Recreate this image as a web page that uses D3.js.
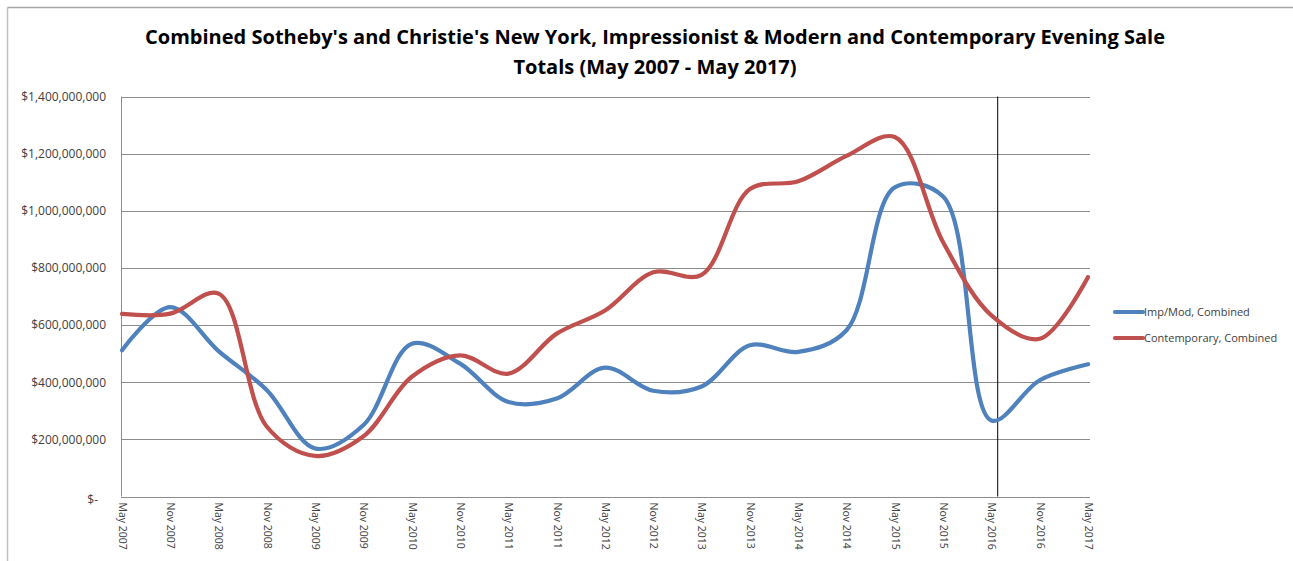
<!DOCTYPE html>
<html>
<head>
<meta charset="utf-8">
<script src="https://cdn.jsdelivr.net/npm/d3@7"></script>
<style>
  html, body { margin: 0; padding: 0; background: #fff; }
  svg { display: block; }
</style>
</head>
<body>
<svg id="chart" width="1293" height="561"></svg>
<script>
// ---- data (values in millions of USD) ----
const categories = ["May 2007","Nov 2007","May 2008","Nov 2008","May 2009","Nov 2009","May 2010","Nov 2010",
  "May 2011","Nov 2011","May 2012","Nov 2012","May 2013","Nov 2013","May 2014","Nov 2014","May 2015",
  "Nov 2015","May 2016","Nov 2016","May 2017"];
const impModCombined = [512, 663, 509, 372, 168, 250, 535, 465, 331, 343, 451, 370, 385, 529, 506, 582, 1082, 1050, 266, 407, 463];
const contemporaryCombined = [639, 640, 710, 244, 142, 211, 419, 494, 430, 570, 651, 785, 776, 1076, 1103, 1192, 1258, 890, 634, 552, 768];
const seriesNames = ["Imp/Mod, Combined", "Contemporary, Combined"];
const yTicks = [0, 200, 400, 600, 800, 1000, 1200, 1400];
const markerCategory = "May 2016";
const titleLines = ["Combined Sotheby's and Christie's New York, Impressionist & Modern and Contemporary Evening Sale",
  "Totals (May 2007 - May 2017)"];

// ---- layout ----
const svg = d3.select("#chart");
const W = 1293, H = 561;
const plot = { left: 121, right: 1090, top: 96.5, bottom: 496.5 };
const colors = ["#4F81BD", "#C0504D"];

// frame
svg.append("line").attr("x1", 7.5).attr("x2", W).attr("y1", 7.5).attr("y2", 7.5)
  .attr("stroke", "#a6a6a6").attr("stroke-width", 1.5);
svg.append("line").attr("x1", 7.5).attr("x2", 7.5).attr("y1", 7.5).attr("y2", H)
  .attr("stroke", "#bfbfbf").attr("stroke-width", 1.5);

const x = d3.scalePoint().domain(categories).range([plot.left + 1, plot.right - 2]);
const y = d3.scaleLinear().domain([0, 1400]).range([plot.bottom, plot.top]);

// gridlines
svg.append("g").selectAll("line").data(yTicks.filter(d => d > 0)).join("line")
  .attr("x1", plot.left).attr("x2", plot.right)
  .attr("y1", d => Math.round(y(d)) + 0.5).attr("y2", d => Math.round(y(d)) + 0.5)
  .attr("stroke", "#8c8c8c").attr("stroke-width", 1);

// y axis
const yAxis = d3.axisLeft(y).tickValues(yTicks).tickSize(0).tickPadding(0)
  .tickFormat(d => d === 0 ? "$-" : d3.format("$,")(d * 1e6));
const gy = svg.append("g").attr("transform", `translate(${plot.left - 15},0)`).call(yAxis);
gy.select(".domain").remove();
gy.selectAll("text").attr("font-family", "'Open Sans', sans-serif").attr("font-size", "12px")
  .attr("fill", "#404040").attr("dx", d => d === 0 ? -8 : 0).attr("dy", d => d === 0 ? "0.6em" : "0.32em");

// plot left & bottom border
svg.append("line").attr("x1", plot.left + 0.5).attr("x2", plot.left + 0.5)
  .attr("y1", plot.top).attr("y2", plot.bottom).attr("stroke", "#8c8c8c");
svg.append("line").attr("x1", plot.left).attr("x2", plot.right)
  .attr("y1", Math.round(plot.bottom) + 0.5).attr("y2", Math.round(plot.bottom) + 0.5).attr("stroke", "#8c8c8c");

// x axis labels (rotated)
const xAxis = d3.axisBottom(x).tickSize(0).tickPadding(0);
const gx = svg.append("g").attr("transform", `translate(0,${plot.bottom + 6})`).call(xAxis);
gx.select(".domain").remove();
gx.selectAll("text")
  .attr("font-family", "'Open Sans', sans-serif").attr("font-size", "10.5px").attr("fill", "#404040")
  .attr("text-anchor", "start").attr("x", 0).attr("y", 0)
  .attr("transform", "rotate(90)").attr("dy", "0.35em");

// marker vertical line
const step = x.step();
svg.append("line")
  .attr("x1", x(markerCategory) + step * 0.12 + 0.5).attr("x2", x(markerCategory) + step * 0.12 + 0.5)
  .attr("y1", plot.top).attr("y2", plot.bottom)
  .attr("stroke", "#000").attr("stroke-width", 1);

// lines
const line = d3.line().x((d, i) => x(categories[i])).y(d => y(d)).curve(d3.curveCatmullRom.alpha(0.5));
[impModCombined, contemporaryCombined].forEach((s, i) => {
  svg.append("path").datum(s).attr("d", line).attr("fill", "none")
    .attr("stroke", colors[i]).attr("stroke-width", 4.2).attr("stroke-linecap", "round").attr("stroke-linejoin", "round");
});

// legend
const legend = svg.append("g");
seriesNames.forEach((name, i) => {
  const ly = 312 + i * 26;
  legend.append("line").attr("x1", 1115).attr("x2", 1143).attr("y1", ly).attr("y2", ly)
    .attr("stroke", colors[i]).attr("stroke-width", 4.2).attr("stroke-linecap", "round");
  legend.append("text").attr("x", 1144).attr("y", ly).attr("dy", "0.35em")
    .attr("font-family", "'Open Sans', sans-serif").attr("font-size", "11px").attr("fill", "#404040")
    .text(name);
});

// title
const tg = svg.append("g");
const t1 = tg.append("text").attr("x", 655).attr("y", 44).attr("text-anchor", "middle")
  .attr("font-family", "'Open Sans', sans-serif").attr("font-weight", "bold").attr("font-size", "19.5px")
  .attr("fill", "#000").text(titleLines[0]);
const t2 = tg.append("text").attr("x", 655).attr("y", 74).attr("text-anchor", "middle")
  .attr("font-family", "'Open Sans', sans-serif").attr("font-weight", "bold").attr("font-size", "19.5px")
  .attr("fill", "#000").text(titleLines[1]);
const w1 = t1.node().getComputedTextLength();
const k = 1020 / w1;
const w2 = t2.node().getComputedTextLength();
t1.attr("textLength", 1020).attr("lengthAdjust", "spacingAndGlyphs");
t2.attr("textLength", w2 * k).attr("lengthAdjust", "spacingAndGlyphs");
</script>
</body>
</html>
